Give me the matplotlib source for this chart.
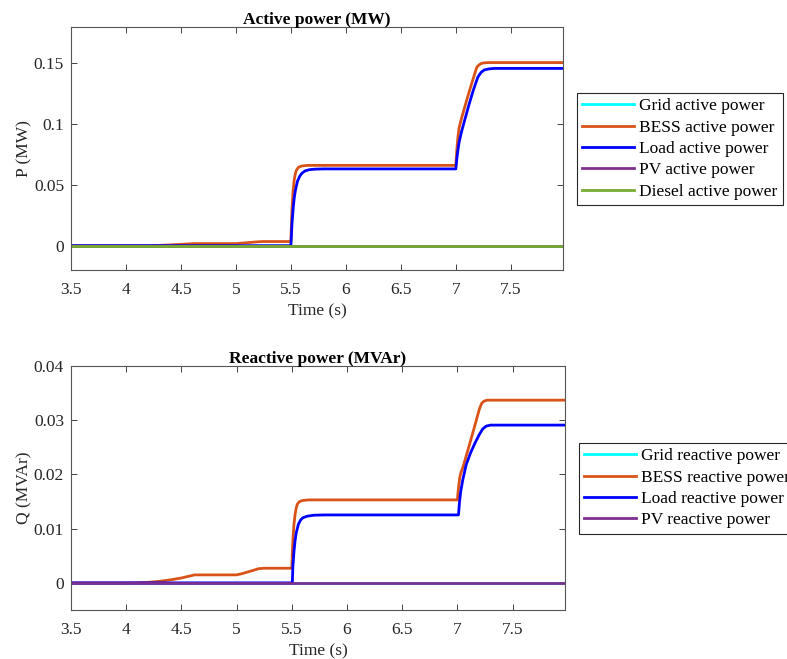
"""
Active / reactive power of the microgrid sources, MATLAB-style two-panel plot.
Writes out.png
"""

import matplotlib
matplotlib.use("Agg")
import matplotlib.pyplot as plt

# ── Data ───────────────────────────────────────────────────────────────────────

T_ZERO = [3.5, 7.98]
ZERO   = [0.0, 0.0]

# Active power (MW)
t_p_bess = [3.5, 4.2, 4.3, 4.4, 4.5, 4.62, 5.0, 5.1, 5.2, 5.25, 5.5,
            5.505, 5.51, 5.52, 5.53, 5.54, 5.55, 5.57, 5.6, 5.65, 7.0,
            7.01, 7.02, 7.03, 7.05, 7.1, 7.15, 7.19, 7.21, 7.23, 7.26, 7.3, 7.98]
p_bess   = [0.0, 0.0, 0.0002, 0.0006, 0.0011, 0.0017, 0.0017, 0.0024, 0.0032, 0.0034, 0.0034,
            0.018, 0.030, 0.045, 0.054, 0.059, 0.062, 0.0645, 0.0655, 0.066, 0.066,
            0.080, 0.090, 0.097, 0.104, 0.120, 0.135, 0.1465, 0.1485, 0.1497, 0.1503, 0.1505, 0.1505]

t_p_load = [3.5, 5.5, 5.51, 5.52, 5.53, 5.54, 5.56, 5.58, 5.6, 5.63, 5.67, 5.72, 5.8,
            7.0, 7.01, 7.02, 7.03, 7.05, 7.08, 7.12, 7.16, 7.2, 7.23, 7.26, 7.3, 7.35, 7.98]
p_load   = [0.0, 0.0, 0.018, 0.030, 0.039, 0.045, 0.053, 0.057, 0.0595, 0.0615, 0.0625, 0.0629, 0.0631,
            0.0631, 0.072, 0.079, 0.085, 0.093, 0.103, 0.116, 0.128, 0.1385, 0.1425, 0.1445, 0.1453, 0.1457, 0.1457]

# Reactive power (MVAr)
t_q_bess = [3.5, 4.0, 4.1, 4.2, 4.3, 4.4, 4.5, 4.62, 5.0, 5.05, 5.1, 5.15, 5.2, 5.25, 5.5,
            5.505, 5.51, 5.52, 5.53, 5.54, 5.55, 5.57, 5.6, 5.65, 7.0,
            7.01, 7.02, 7.03, 7.05, 7.1, 7.15, 7.2, 7.22, 7.24, 7.27, 7.98]
q_bess   = [0.0, 0.0, 0.00003, 0.0001, 0.00028, 0.00055, 0.0009, 0.00147, 0.00147, 0.0017, 0.002, 0.0023, 0.00262, 0.0027, 0.0027,
            0.0055, 0.0078, 0.0108, 0.0126, 0.0138, 0.0145, 0.0150, 0.0152, 0.0153, 0.0153,
            0.0175, 0.0192, 0.0202, 0.0213, 0.0248, 0.0284, 0.0321, 0.0331, 0.0335, 0.0337, 0.0337]

t_q_load = [3.5, 5.505, 5.51, 5.52, 5.53, 5.54, 5.56, 5.58, 5.6, 5.64, 5.7, 5.8,
            7.01, 7.02, 7.03, 7.05, 7.08, 7.12, 7.16, 7.2, 7.23, 7.26, 7.3, 7.98]
q_load   = [0.0, 0.0, 0.003, 0.0058, 0.0078, 0.0092, 0.0108, 0.0116, 0.0120, 0.0123, 0.01248, 0.01253,
            0.01253, 0.0150, 0.0168, 0.0191, 0.0218, 0.0240, 0.0258, 0.0274, 0.0284, 0.0289, 0.0291, 0.0291]

X_TICKS = [3.5, 4, 4.5, 5, 5.5, 6, 6.5, 7, 7.5]

# ── Style ──────────────────────────────────────────────────────────────────────

CYAN   = "#00ffff"
ORANGE = "#d95319"
BLUE   = "#0000ff"
PURPLE = "#7e2f8e"
GREEN  = "#77ac30"
AX_COL = "#262626"
LW     = 2.0
FS     = 12.5

plt.rcParams["font.family"] = ["Liberation Serif", "DejaVu Serif"]
plt.rcParams["font.size"] = FS

fig = plt.figure(figsize=(7.87, 6.59), dpi=100)
ax1 = fig.add_axes([0.0902, 0.5903, 0.6252, 0.3692])
ax2 = fig.add_axes([0.0902, 0.0744, 0.6277, 0.3702])


def style_axes(ax):
    ax.set_xticks(X_TICKS)
    ax.set_xticklabels([f"{v:g}" for v in X_TICKS])
    ax.tick_params(direction="in", top=True, right=True, length=4.5,
                   width=0.6, colors=AX_COL, labelcolor=AX_COL)
    ax.tick_params(axis="x", pad=9)
    ax.tick_params(axis="y", pad=5)
    for s in ax.spines.values():
        s.set_color("#555555")
        s.set_linewidth(0.8)
    ax.set_xlabel("Time (s)", color=AX_COL, labelpad=3.5)


def add_legend(ax, anchor):
    leg = ax.legend(loc="upper left", bbox_to_anchor=anchor,
                    bbox_transform=fig.transFigure, borderaxespad=0,
                    fancybox=False, edgecolor=AX_COL, framealpha=1,
                    handlelength=3.0, handletextpad=0.3, borderpad=0.3,
                    labelspacing=0.3)
    leg.get_frame().set_linewidth(0.8)


# ── Active power ───────────────────────────────────────────────────────────────

ax1.plot(T_ZERO, ZERO, color=CYAN, lw=LW, label="Grid active power")
ax1.plot(t_p_bess, p_bess, color=ORANGE, lw=LW, label="BESS active power")
ax1.plot(t_p_load, p_load, color=BLUE, lw=LW, label="Load active power")
ax1.plot(T_ZERO, ZERO, color=PURPLE, lw=LW, label="PV active power")
ax1.plot(T_ZERO, ZERO, color=GREEN, lw=LW, label="Diesel active power")

ax1.set_xlim(3.5, 7.975)
ax1.set_ylim(-0.02, 0.18)
ax1.set_yticks([0, 0.05, 0.1, 0.15])
ax1.set_yticklabels(["0", "0.05", "0.1", "0.15"])
ax1.set_ylabel("P (MW)", color=AX_COL, labelpad=1)
ax1.set_title("Active power (MW)", fontweight="bold", fontsize=FS, pad=2)
style_axes(ax1)
add_legend(ax1, (0.733, 0.859))

# ── Reactive power ─────────────────────────────────────────────────────────────

ax2.plot(T_ZERO, ZERO, color=CYAN, lw=LW, label="Grid reactive power")
ax2.plot(t_q_bess, q_bess, color=ORANGE, lw=LW, label="BESS reactive power")
ax2.plot(t_q_load, q_load, color=BLUE, lw=LW, label="Load reactive power")
ax2.plot(T_ZERO, ZERO, color=PURPLE, lw=LW, label="PV reactive power")

ax2.set_xlim(3.5, 7.975)
ax2.set_ylim(-0.005, 0.04)
ax2.set_yticks([0, 0.01, 0.02, 0.03, 0.04])
ax2.set_yticklabels(["0", "0.01", "0.02", "0.03", "0.04"])
ax2.set_ylabel("Q (MVAr)", color=AX_COL, labelpad=1)
ax2.set_title("Reactive power (MVAr)", fontweight="bold", fontsize=FS, pad=2)
style_axes(ax2)
add_legend(ax2, (0.7357, 0.3278))

fig.savefig("out.png", dpi=100, facecolor="white")
